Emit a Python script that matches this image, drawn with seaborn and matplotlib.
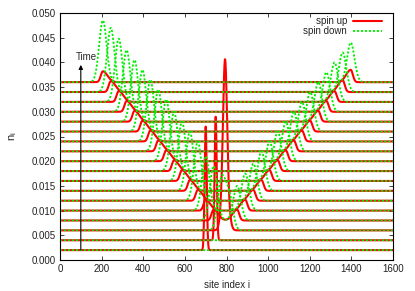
import numpy as np
import pandas as pd
import matplotlib
matplotlib.use("Agg")
import matplotlib.pyplot as plt
import seaborn as sns

# ---- data ----
baselines = [0.002, 0.004, 0.006, 0.008, 0.010, 0.012, 0.014, 0.016, 0.018,
             0.020, 0.022, 0.024, 0.026, 0.028, 0.030, 0.032, 0.034, 0.036]
# front positions (site index) of the left / right moving packets per trace
left_front = [np.nan, np.nan, 776, 738, 700, 662, 624, 586, 548,
              510, 472, 434, 396, 358, 320, 282, 244, 206]
right_front = [np.nan, np.nan, 812, 851, 890, 929, 968, 1007, 1046,
               1085, 1124, 1163, 1202, 1241, 1280, 1319, 1358, 1397]
red_amp_left = [0, 0, 0.0022, 0.0022, 0.0022, 0.0022, 0.0022, 0.0022, 0.0022,
                0.0022, 0.0022, 0.0022, 0.0022, 0.0022, 0.0022, 0.0022, 0.0022, 0.0022]
red_amp_right = [0, 0, 0.0022, 0.0022, 0.0022, 0.0022, 0.0022, 0.0022, 0.0022,
                 0.0022, 0.0022, 0.0022, 0.0022, 0.0022, 0.0022, 0.0022, 0.0024, 0.0025]
green_amp_left = [0, 0, 0.010, 0.011, 0.011, 0.012, 0.012, 0.012, 0.012,
                  0.0125, 0.0125, 0.0125, 0.0125, 0.0125, 0.0125, 0.0128, 0.013, 0.0125]
green_amp_right = [0, 0, 0.007, 0.007, 0.0075, 0.0075, 0.008, 0.008, 0.008,
                   0.008, 0.008, 0.008, 0.008, 0.008, 0.008, 0.008, 0.008, 0.008]
# narrow spin-up spikes near the centre in the earliest traces
spike_trace = [0, 1, 2]
spike_pos = [700, 748, 793]
spike_height = [0.025, 0.025, 0.0315]
spike_width = [5, 5, 10]

sites = np.arange(0, 1601, 1)


def packet(x, pos, amp, s_out, s_in, side):
    if np.isnan(pos) or amp == 0:
        return np.zeros_like(x, dtype=float)
    d = x - pos
    if side == "left":
        s = np.where(d < 0, s_out, s_in)
    else:
        s = np.where(d > 0, s_out, s_in)
    return amp * np.exp(-0.5 * (d / s) ** 2)


rows = []
for k, b in enumerate(baselines):
    up = np.full(sites.shape, b, dtype=float)
    dn = np.full(sites.shape, b, dtype=float)
    up += packet(sites, left_front[k], red_amp_left[k], 10, 22, "left")
    up += packet(sites, right_front[k], red_amp_right[k], 10, 22, "right")
    dn += packet(sites, left_front[k], green_amp_left[k], 18, 18, "left")
    dn += packet(sites, right_front[k], green_amp_right[k], 18, 18, "right")
    for t, p, h, w in zip(spike_trace, spike_pos, spike_height, spike_width):
        if t == k:
            up += h * np.exp(-0.5 * ((sites - p) / w) ** 2)
    rows.append(pd.DataFrame({"site": sites, "n": up, "spin": "spin up", "trace": k}))
    rows.append(pd.DataFrame({"site": sites, "n": dn, "spin": "spin down", "trace": k}))
df = pd.concat(rows, ignore_index=True)

sns.set_style("ticks")
plt.rcParams["font.family"] = ["Liberation Sans", "DejaVu Sans"]

fig = plt.figure(figsize=(4.15, 2.91), dpi=100)
ax = fig.add_axes([60 / 415, 31 / 291, 333 / 415, 247 / 291])

RED = "#ff0000"
GREEN = "#00ee00"
FS = 7
up_df = df[df.spin == "spin up"]
dn_df = df[df.spin == "spin down"]
sns.lineplot(data=up_df, x="site", y="n", units="trace", estimator=None,
             color=RED, lw=1.5, ax=ax, sort=False, legend=False)
sns.lineplot(data=dn_df, x="site", y="n", units="trace", estimator=None,
             color=GREEN, lw=1.3, ax=ax, sort=False, legend=False,
             dashes=False, linestyle=(0, (1.2, 1.0)))

# legend (gnuplot style: text then sample)
from matplotlib.lines import Line2D
handles = [Line2D([], [], color=RED, lw=1.5),
           Line2D([], [], color=GREEN, lw=1.3, linestyle=(0, (1.2, 1.0)))]
leg = ax.legend(handles, ["spin up", "spin down"], loc="upper right",
                frameon=False, markerfirst=False, fontsize=FS,
                handlelength=3.0, handletextpad=0.6, labelspacing=0.0,
                borderaxespad=0.2, bbox_to_anchor=(0.985, 1.01))

# time arrow
ax.annotate("", xy=(100, 0.0395), xytext=(100, 0.002),
            arrowprops=dict(arrowstyle="-|>", color="black", lw=0.8,
                            mutation_scale=6, shrinkA=0, shrinkB=0))
ax.text(128, 0.0410, "Time", ha="center", va="center", fontsize=FS)

ax.set_xlim(0, 1600)
ax.set_ylim(0, 0.050)
ax.set_xticks(np.arange(0, 1601, 200))
ax.set_yticks(np.arange(0, 0.0501, 0.005))
ax.set_yticklabels([f"{v:.3f}" for v in np.arange(0, 0.0501, 0.005)])
ax.tick_params(direction="in", length=3, width=0.6, labelsize=FS,
               top=True, right=True, pad=3, colors="#222222")
for s in ax.spines.values():
    s.set_linewidth(0.8)
    s.set_color("black")
ax.set_xlabel("site index i", fontsize=FS, labelpad=4)
ax.set_ylabel("n$_\\mathregular{i}$", fontsize=FS + 1, labelpad=9)

fig.savefig("out.png", dpi=100)
